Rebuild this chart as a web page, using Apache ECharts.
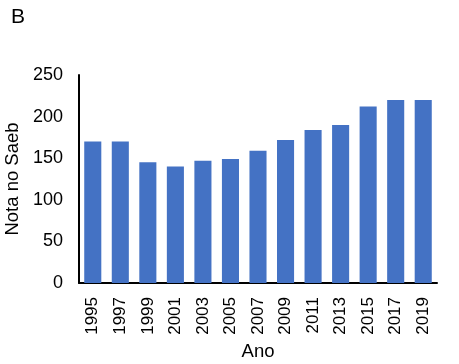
<!DOCTYPE html>
<html>
<head>
<meta charset="utf-8">
<script src="https://cdn.jsdelivr.net/npm/echarts@6/dist/echarts.min.js"></script>
<style>html,body{margin:0;padding:0;background:#fff}#c{width:459px;height:364px}</style>
</head>
<body>
<div id="c"></div>
<script>
const categories = ['1995','1997','1999','2001','2003','2005','2007','2009','2011','2013','2015','2017','2019'];
const scores = [170, 170, 145, 140, 147, 149, 159, 172, 184, 190, 212, 220, 220];
const yTicks = {min: 0, max: 250, interval: 50};

const chart = echarts.init(document.getElementById('c'), null, {renderer: 'canvas'});
const font = '"Liberation Sans", Arial, sans-serif';
chart.setOption({
  animation: false,
  backgroundColor: '#fff',
  title: {text: 'B', left: 6, top: 2, textStyle: {fontFamily: font, fontSize: 21, fontWeight: 'normal', color: '#000'}},
  grid: {left: 79, right: 22, top: 75, bottom: 81, containLabel: false, outerBoundsMode: 'none'},
  xAxis: {
    type: 'category', data: categories,
    name: 'Ano', nameLocation: 'middle', nameGap: 59,
    nameTextStyle: {fontFamily: font, fontSize: 18.5, color: '#000'},
    axisLine: {lineStyle: {color: '#000', width: 2}},
    axisTick: {show: false},
    axisLabel: {rotate: 90, interval: 0, margin: 14, fontFamily: font, fontSize: 17, color: '#000'}
  },
  yAxis: {
    type: 'value', min: yTicks.min, max: yTicks.max, interval: yTicks.interval,
    name: 'Nota no Saeb', nameLocation: 'middle', nameGap: 50,
    nameTextStyle: {fontFamily: font, fontSize: 18.5, color: '#000'},
    axisLine: {show: true, lineStyle: {color: '#000', width: 2}},
    axisTick: {show: false},
    splitLine: {show: false},
    axisLabel: {margin: 16, fontFamily: font, fontSize: 18, color: '#000'}
  },
  series: [{
    type: 'bar', data: scores, barWidth: '62%',
    itemStyle: {color: '#4472C4'}
  }]
});
</script>
</body>
</html>
